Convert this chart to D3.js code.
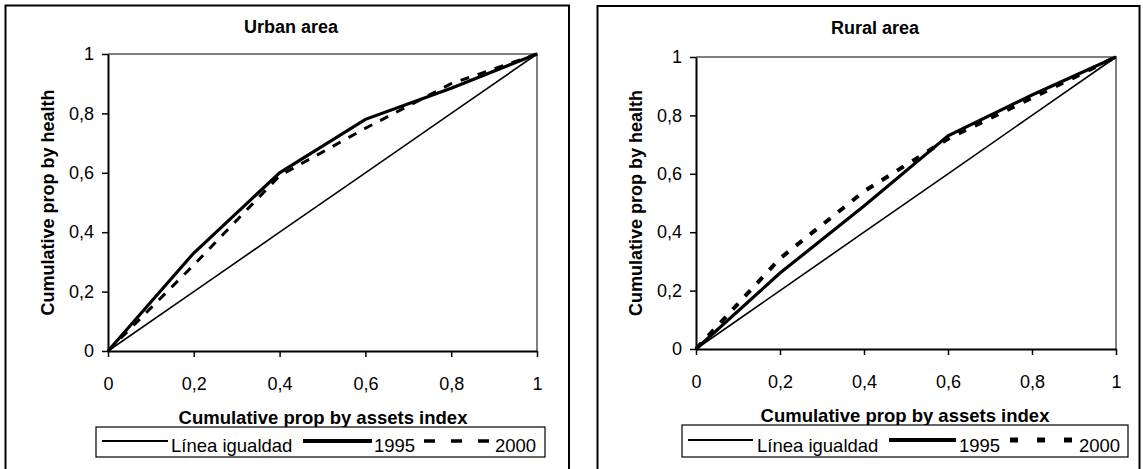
<!DOCTYPE html>
<html>
<head>
<meta charset="utf-8">
<script src="https://cdn.jsdelivr.net/npm/d3@7"></script>
<style>
  body { margin: 0; background: #fff; }
  text { font-family: "Liberation Sans", Arial, sans-serif; fill: #000; }
</style>
</head>
<body>
<div id="chart"></div>
<script>
// Cumulative shares on the x axis
const xShares = [0, 0.2, 0.4, 0.6, 0.8, 1];
const equality = [0, 0.2, 0.4, 0.6, 0.8, 1];

// Urban area
const urban1995 = [0, 0.33, 0.6, 0.78, 0.885, 1];
const urban2000 = [0, 0.29, 0.59, 0.75, 0.9, 1];

// Rural area
const rural1995 = [0, 0.26, 0.49, 0.73, 0.87, 1];
const rural2000 = [0, 0.31, 0.54, 0.72, 0.86, 1];

const tickValues = [0, 0.2, 0.4, 0.6, 0.8, 1];
const tickLabels = ["0", "0,2", "0,4", "0,6", "0,8", "1"];
const seriesNames = ["Línea igualdad", "1995", "2000"];

const svg = d3.select("#chart")
    .append("svg")
    .attr("width", 1143)
    .attr("height", 469);

const fontSize = 18;

function drawPanel(p) {
    const g = svg.append("g");

    // outer frame (bottom runs off the picture)
    g.append("rect")
        .attr("x", p.frame.x).attr("y", p.frame.y)
        .attr("width", p.frame.w).attr("height", 500)
        .attr("fill", "none").attr("stroke", "#000").attr("stroke-width", 2);

    const x = d3.scaleLinear().domain([0, 1]).range([p.plot.x0, p.plot.x1]);
    const y = d3.scaleLinear().domain([0, 1]).range([p.plot.y1, p.plot.y0]);

    // grey top and right border of the plot area
    g.append("path")
        .attr("d", `M${x(0)},${y(1)}H${x(1)}V${y(0)}`)
        .attr("fill", "none").attr("stroke", "#808080").attr("stroke-width", 2);

    const fmt = d => tickLabels[tickValues.indexOf(d)];

    const xAxis = g.append("g")
        .attr("transform", `translate(0,${y(0)})`)
        .call(d3.axisBottom(x).tickValues(tickValues).tickFormat(fmt).tickSize(6).tickPadding(20).tickSizeOuter(0));
    const yAxis = g.append("g")
        .attr("transform", `translate(${x(0)},0)`)
        .call(d3.axisLeft(y).tickValues(tickValues).tickFormat(fmt).tickSize(6).tickPadding(8).tickSizeOuter(0));

    [xAxis, yAxis].forEach(a => {
        a.select(".domain").attr("stroke", "#000").attr("stroke-width", 2);
        a.selectAll(".tick line").attr("stroke", "#000").attr("stroke-width", 1.5);
        a.selectAll(".tick text")
            .style("font-family", "'Liberation Sans', Arial, sans-serif")
            .style("font-size", fontSize + "px")
            .attr("fill", "#000");
    });

    const line = d3.line()
        .x((d, i) => x(xShares[i]))
        .y(d => y(d));

    g.append("path").datum(equality)
        .attr("d", line).attr("fill", "none")
        .attr("stroke", "#000").attr("stroke-width", 1.6);

    g.append("path").datum(p.s1995)
        .attr("d", line).attr("fill", "none")
        .attr("stroke", "#000").attr("stroke-width", 3.2);

    g.append("path").datum(p.s2000)
        .attr("d", line).attr("fill", "none")
        .attr("stroke", "#000").attr("stroke-width", p.dashWidth)
        .attr("stroke-dasharray", p.dash);

    // titles
    g.append("text")
        .attr("x", p.title.x).attr("y", p.title.y)
        .attr("text-anchor", "middle")
        .style("font-size", fontSize + "px").style("font-weight", "bold")
        .text(p.title.text);

    g.append("text")
        .attr("transform", `translate(${p.yTitleX},${(p.plot.y0 + p.plot.y1) / 2}) rotate(-90)`)
        .attr("text-anchor", "middle")
        .attr("dy", "0.35em")
        .style("font-size", fontSize + "px").style("font-weight", "bold")
        .text("Cumulative prop by health");

    g.append("text")
        .attr("x", p.xTitle.x).attr("y", p.xTitle.y)
        .attr("text-anchor", "middle")
        .style("font-size", "18.5px").style("font-weight", "bold")
        .text("Cumulative prop by assets index");

    // legend
    const lg = p.legend;
    g.append("rect")
        .attr("x", lg.x).attr("y", lg.y)
        .attr("width", lg.w).attr("height", lg.h)
        .attr("fill", "#fff").attr("stroke", "#000").attr("stroke-width", 1.2);

    const ly = lg.y + lg.h / 2;
    const styles = [
        { w: 2, dash: null },
        { w: 4, dash: null },
        { w: lg.dashWidth, dash: lg.dash }
    ];
    lg.items.forEach((it, i) => {
        g.append("line")
            .attr("x1", it.x1).attr("x2", it.x2)
            .attr("y1", ly - 1).attr("y2", ly - 1)
            .attr("stroke", "#000").attr("stroke-width", styles[i].w)
            .attr("stroke-dasharray", styles[i].dash);
        g.append("text")
            .attr("x", it.tx).attr("y", lg.y + lg.h - 5)
            .style("font-size", "18.5px")
            .text(seriesNames[i]);
    });
}

drawPanel({
    frame: { x: 5.5, y: 5.5, w: 563.5 },
    plot: { x0: 108, x1: 537, y0: 54, y1: 351 },
    title: { x: 291, y: 33, text: "Urban area" },
    yTitleX: 48,
    xTitle: { x: 323, y: 424 },
    s1995: urban1995,
    s2000: urban2000,
    dash: "9,9",
    dashWidth: 3,
    legend: {
        x: 96, y: 427, w: 449, h: 30,
        dash: "11,16", dashWidth: 3.5,
        items: [
            { x1: 102, x2: 168, tx: 171 },
            { x1: 303, x2: 372, tx: 374 },
            { x1: 424, x2: 490, tx: 495 }
        ]
    }
});

drawPanel({
    frame: { x: 597.5, y: 6, w: 542 },
    plot: { x0: 696, x1: 1116, y0: 57, y1: 349 },
    title: { x: 875, y: 34, text: "Rural area" },
    yTitleX: 636,
    xTitle: { x: 905, y: 422 },
    s1995: rural1995,
    s2000: rural2000,
    dash: "8,10",
    dashWidth: 4,
    legend: {
        x: 682, y: 425, w: 446, h: 32,
        dash: "8,19", dashWidth: 5,
        items: [
            { x1: 688, x2: 753, tx: 757 },
            { x1: 889, x2: 956, tx: 959 },
            { x1: 1010, x2: 1072, tx: 1079 }
        ]
    }
});
</script>
</body>
</html>
